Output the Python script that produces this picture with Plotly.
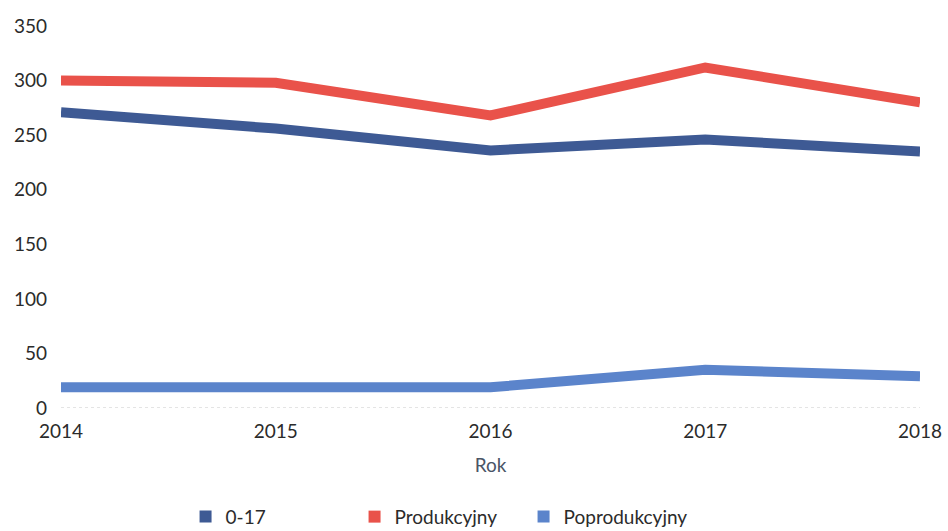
import plotly.graph_objects as go

years = [2014, 2015, 2016, 2017, 2018]
s_017 = [271, 256, 236, 246, 235]
s_prod = [300, 298, 268, 312, 280]
s_poprod = [19, 19, 19, 35, 29]

names = ["0-17", "Produkcyjny", "Poprodukcyjny"]
colors = ["#3e5a94", "#e9524a", "#5b84cb"]
series = [s_017, s_prod, s_poprod]

FONT = "Lato"
fig = go.Figure()
for name, col, vals in zip(names, colors, series):
    fig.add_trace(go.Scatter(x=years, y=vals, mode="lines", name=name,
                             line=dict(color=col, width=10), showlegend=False,
                             hoverinfo="x+y+name"))
for name, col in zip(names, colors):
    fig.add_trace(go.Scatter(x=[None], y=[None], mode="markers", name=name,
                             marker=dict(symbol="square", size=12, color=col)))

fig.add_hline(y=0, line=dict(color="#c8c8c8", width=1, dash="dot"))

fig.update_layout(
    width=948, height=531,
    margin=dict(l=61, r=28, t=26, b=123, autoexpand=False),
    paper_bgcolor="white", plot_bgcolor="white",
    font=dict(family=FONT, size=19, color="#2b2b2b"),
    xaxis=dict(range=[2014, 2018], tickvals=years, ticktext=[str(y) for y in years],
               showgrid=False, zeroline=False, showline=False, automargin=False,
               ticklabelstandoff=10,
               title=dict(text="Rok", font=dict(color="#4a5566", size=19), standoff=17)),
    yaxis=dict(range=[0, 350], dtick=50, showgrid=False, zeroline=False, showline=False,
               automargin=False, ticklabelstandoff=13),
    legend=dict(orientation="h", x=0.145, xanchor="left", y=-0.235, yanchor="top",
                font=dict(size=19), entrywidth=124, itemsizing="constant"),
)

fig.write_html("out.html", config={"displayModeBar": False},
               post_script="document.body.style.margin='0';")
